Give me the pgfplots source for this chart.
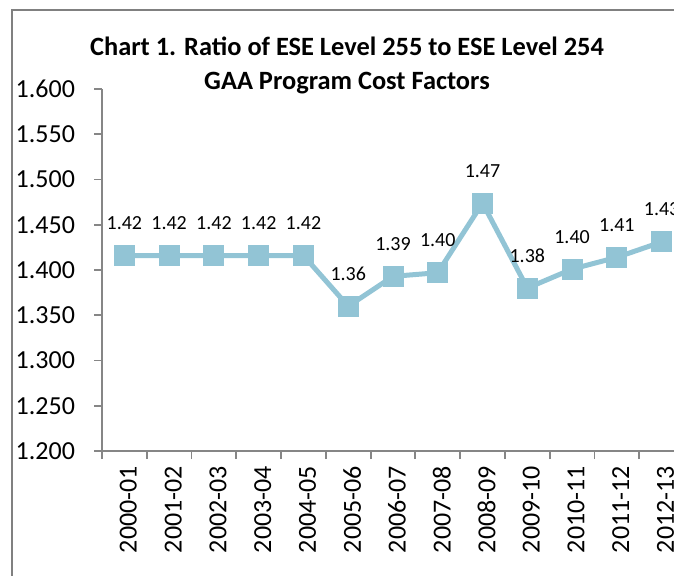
\documentclass[border=0pt]{standalone}
\usepackage{fontspec}
\setmainfont{Carlito}
\usepackage{pgfplots}
\pgfplotsset{compat=1.18}
\definecolor{linec}{RGB}{146,196,213}
\definecolor{axgray}{RGB}{134,134,134}
\definecolor{bordergray}{RGB}{128,128,128}
\begin{document}
\begin{tikzpicture}[x=0.5pt,y=0.5pt]
\useasboundingbox (0,0) rectangle (674,575);
\clip (0,0) rectangle (674,575);
\draw[bordergray, line width=1pt] (12,-20) -- (12,565) -- (700,565);
\node[font=\bfseries\fontsize{13.2}{15}\selectfont, anchor=base] at (347,520) {Chart 1. Ratio of ESE Level 255 to ESE Level 254};
\node[font=\bfseries\fontsize{13.2}{15}\selectfont, anchor=base] at (347,486) {GAA Program Cost Factors};
\begin{axis}[
  at={(51pt,62pt)}, anchor=south west,
  scale only axis, width=291pt, height=181pt,
  xmin=-0.5, xmax=12.5, ymin=1.2, ymax=1.6,
  axis x line*=bottom, axis y line*=left,
  axis line style={axgray, line width=0.9pt},
  tick align=outside,
  major tick length=4pt, minor tick length=4pt,
  tick style={axgray, line width=0.9pt},
  major x tick style={draw=none},
  xtick={0,...,12},
  minor xtick={-0.5,0.5,...,12.5},
  xticklabels={2000-01,2001-02,2002-03,2003-04,2004-05,2005-06,2006-07,2007-08,2008-09,2009-10,2010-11,2011-12,2012-13},
  x tick label style={rotate=90, anchor=east, font=\fontsize{13}{15}\selectfont, yshift=-2pt},
  ytick={1.2,1.25,...,1.61},
  yticklabel style={/pgf/number format/fixed, /pgf/number format/fixed zerofill, /pgf/number format/precision=3, font=\fontsize{13}{15}\selectfont, xshift=-6pt},
  /pgf/number format/assume math mode=true,
  clip=false,
  nodes near coords={\pgfmathprintnumber[fixed,fixed zerofill,precision=2]{\pgfplotspointmeta}},
  every node near coord/.style={anchor=base, yshift=13pt, font=\fontsize{10}{12}\selectfont, text=black},
]
\addplot[color=linec, line width=2.5pt, mark=square*, mark size=5pt, mark options={fill=linec, draw=linec, line width=0pt}]
coordinates {
(0,1.416) (1,1.416) (2,1.416) (3,1.416) (4,1.416) (5,1.360) (6,1.393) (7,1.397) (8,1.474) (9,1.380) (10,1.401) (11,1.414) (12,1.431)
};
\end{axis}
\end{tikzpicture}
\end{document}
